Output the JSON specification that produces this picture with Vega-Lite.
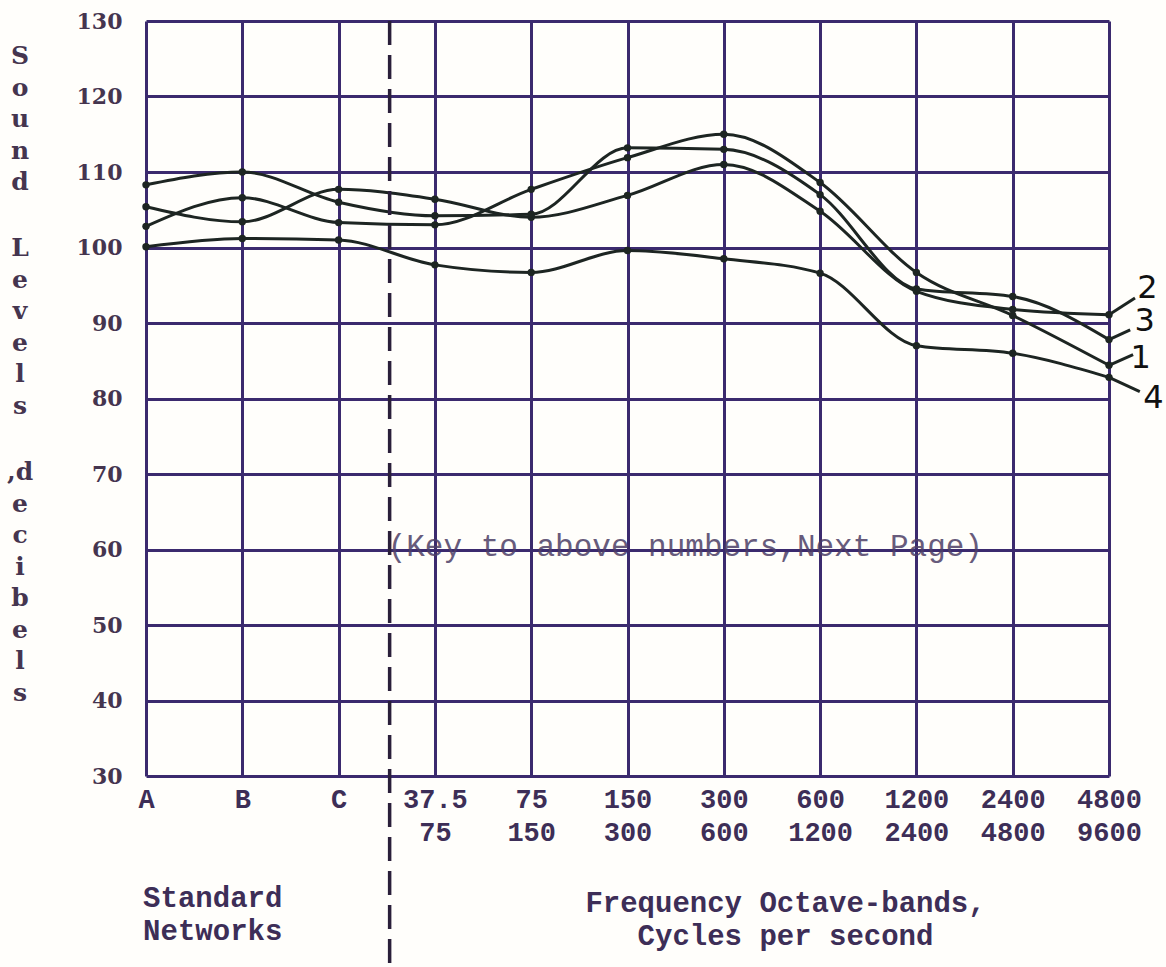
{
  "$schema": "https://vega.github.io/schema/vega-lite/v6.json",
  "width": 963,
  "height": 755,
  "autosize": {"type": "none"},
  "padding": {"left": 146, "top": 21, "right": 57, "bottom": 191},
  "background": "#fffefb",
  "config": {"view": {"stroke": null}},
  "datasets": {
    "curves": [
      {"curve": "1", "band": 0, "level": 102.8},
      {"curve": "1", "band": 1, "level": 106.6},
      {"curve": "1", "band": 2, "level": 103.3},
      {"curve": "1", "band": 3, "level": 103.0},
      {"curve": "1", "band": 4, "level": 107.7},
      {"curve": "1", "band": 5, "level": 111.9},
      {"curve": "1", "band": 6, "level": 115.0},
      {"curve": "1", "band": 7, "level": 108.6},
      {"curve": "1", "band": 8, "level": 96.7},
      {"curve": "1", "band": 9, "level": 91.0},
      {"curve": "1", "band": 10, "level": 84.4},
      {"curve": "2", "band": 0, "level": 105.4},
      {"curve": "2", "band": 1, "level": 103.4},
      {"curve": "2", "band": 2, "level": 107.7},
      {"curve": "2", "band": 3, "level": 106.4},
      {"curve": "2", "band": 4, "level": 104.0},
      {"curve": "2", "band": 5, "level": 106.9},
      {"curve": "2", "band": 6, "level": 111.0},
      {"curve": "2", "band": 7, "level": 104.8},
      {"curve": "2", "band": 8, "level": 94.2},
      {"curve": "2", "band": 9, "level": 91.8},
      {"curve": "2", "band": 10, "level": 91.1},
      {"curve": "3", "band": 0, "level": 108.3},
      {"curve": "3", "band": 1, "level": 110.0},
      {"curve": "3", "band": 2, "level": 106.0},
      {"curve": "3", "band": 3, "level": 104.2},
      {"curve": "3", "band": 4, "level": 104.4},
      {"curve": "3", "band": 5, "level": 113.2},
      {"curve": "3", "band": 6, "level": 113.0},
      {"curve": "3", "band": 7, "level": 107.0},
      {"curve": "3", "band": 8, "level": 94.5},
      {"curve": "3", "band": 9, "level": 93.5},
      {"curve": "3", "band": 10, "level": 87.8},
      {"curve": "4", "band": 0, "level": 100.1},
      {"curve": "4", "band": 1, "level": 101.2},
      {"curve": "4", "band": 2, "level": 101.0},
      {"curve": "4", "band": 3, "level": 97.7},
      {"curve": "4", "band": 4, "level": 96.7},
      {"curve": "4", "band": 5, "level": 99.6},
      {"curve": "4", "band": 6, "level": 98.5},
      {"curve": "4", "band": 7, "level": 96.6},
      {"curve": "4", "band": 8, "level": 87.0},
      {"curve": "4", "band": 9, "level": 86.0},
      {"curve": "4", "band": 10, "level": 82.8}
    ],
    "leaders": [
      {"curve": "2", "x0": 10, "y0": 91.1, "x1": 10.27, "y1": 93.3, "lx": 10.4, "ly": 94.7},
      {"curve": "3", "x0": 10, "y0": 87.8, "x1": 10.22, "y1": 89.1, "lx": 10.37, "ly": 90.2},
      {"curve": "1", "x0": 10, "y0": 84.4, "x1": 10.25, "y1": 85.8, "lx": 10.33, "ly": 85.4},
      {"curve": "4", "x0": 10, "y0": 82.8, "x1": 10.32, "y1": 80.9, "lx": 10.46, "ly": 80.1}
    ],
    "ytitle": [
      {"x": -1.308, "y": 126.9, "t": "S\no\nu\nn\nd"},
      {"x": -1.308, "y": 101.5, "t": "L\ne\nv\ne\nl\ns"},
      {"x": -1.308, "y": 71.8, "t": ",d\ne\nc\ni\nb\ne\nl\ns"}
    ]
  },
  "layer": [
    {
      "data": {"name": "curves"},
      "mark": {"type": "line", "interpolate": "monotone", "color": "#1d2522", "strokeWidth": 3},
      "encoding": {
        "x": {
          "field": "band", "type": "quantitative",
          "scale": {"domain": [0, 10], "nice": false, "zero": false},
          "axis": {
            "values": [0, 1, 2, 3, 4, 5, 6, 7, 8, 9, 10],
            "labelExpr": "['A','B','C',['37.5','75'],['75','150'],['150','300'],['300','600'],['600','1200'],['1200','2400'],['2400','4800'],['4800','9600']][datum.value]",
            "grid": true, "gridColor": "#3b2a6e", "gridWidth": 3, "gridOpacity": 1,
            "domain": false, "ticks": false,
            "labelFont": "Liberation Mono", "labelFontSize": 27, "labelFontWeight": "bold",
            "labelColor": "#3d2e57", "labelPadding": 10, "labelLineHeight": 33,
            "labelOverlap": false, "labelFlush": false,
            "title": ["Frequency Octave-bands,", "Cycles per second"],
            "titleFont": "Liberation Mono", "titleFontSize": 29, "titleFontWeight": "bold",
            "titleColor": "#3d2e57", "titleLineHeight": 33,
            "titleX": 639, "titleY": 135, "titleAlign": "center", "titleBaseline": "alphabetic", "titleAnchor": null
          }
        },
        "y": {
          "field": "level", "type": "quantitative",
          "scale": {"domain": [30, 130], "nice": false, "zero": false},
          "axis": {
            "values": [30, 40, 50, 60, 70, 80, 90, 100, 110, 120, 130],
            "grid": true, "gridColor": "#3b2a6e", "gridWidth": 3, "gridOpacity": 1,
            "domain": false, "ticks": false,
            "labelFont": "DejaVu Serif", "labelFontSize": 22, "labelFontWeight": "bold",
            "labelColor": "#45354f", "labelPadding": 24,
            "title": null
          }
        },
        "detail": {"field": "curve", "type": "nominal"}
      }
    },
    {
      "data": {"name": "curves"},
      "mark": {"type": "point", "filled": true, "size": 55, "color": "#1d2522", "opacity": 1},
      "encoding": {
        "x": {"field": "band", "type": "quantitative"},
        "y": {"field": "level", "type": "quantitative"}
      }
    },
    {
      "data": {"values": [{"x": 2.53, "top": 130, "bottom": 4.7}]},
      "mark": {"type": "rule", "strokeDash": [24, 10], "strokeWidth": 3.5, "color": "#2a1f3a"},
      "encoding": {
        "x": {"field": "x", "type": "quantitative"},
        "y": {"field": "top", "type": "quantitative"},
        "y2": {"field": "bottom"}
      }
    },
    {
      "data": {"name": "leaders"},
      "mark": {"type": "rule", "strokeWidth": 3, "color": "#1d2522"},
      "encoding": {
        "x": {"field": "x0", "type": "quantitative"},
        "y": {"field": "y0", "type": "quantitative"},
        "x2": {"field": "x1"},
        "y2": {"field": "y1"}
      }
    },
    {
      "data": {"name": "leaders"},
      "mark": {"type": "text", "font": "DejaVu Sans", "fontSize": 32, "color": "#111111", "align": "center", "baseline": "middle"},
      "encoding": {
        "x": {"field": "lx", "type": "quantitative"},
        "y": {"field": "ly", "type": "quantitative"},
        "text": {"field": "curve"}
      }
    },
    {
      "data": {"name": "ytitle"},
      "mark": {"type": "text", "font": "DejaVu Serif", "fontSize": 25, "fontWeight": "bold", "color": "#45354f", "align": "center", "baseline": "top", "lineBreak": "\n", "lineHeight": 31.5},
      "encoding": {
        "x": {"field": "x", "type": "quantitative"},
        "y": {"field": "y", "type": "quantitative"},
        "text": {"field": "t"}
      }
    },
    {
      "data": {"values": [{"x": -0.03, "y": 12.65, "t": "Standard\nNetworks"}]},
      "mark": {"type": "text", "font": "Liberation Mono", "fontSize": 29, "fontWeight": "bold", "color": "#3d2e57", "align": "left", "baseline": "alphabetic", "lineBreak": "\n", "lineHeight": 33},
      "encoding": {
        "x": {"field": "x", "type": "quantitative"},
        "y": {"field": "y", "type": "quantitative"},
        "text": {"field": "t"}
      }
    },
    {
      "data": {"values": [{"x": 5.6, "y": 60.3, "t": "(Key to above numbers,Next Page)"}]},
      "mark": {"type": "text", "font": "Liberation Mono", "fontSize": 31, "color": "#4d3f66", "opacity": 0.85, "align": "center", "baseline": "middle"},
      "encoding": {
        "x": {"field": "x", "type": "quantitative"},
        "y": {"field": "y", "type": "quantitative"},
        "text": {"field": "t"}
      }
    }
  ]
}
